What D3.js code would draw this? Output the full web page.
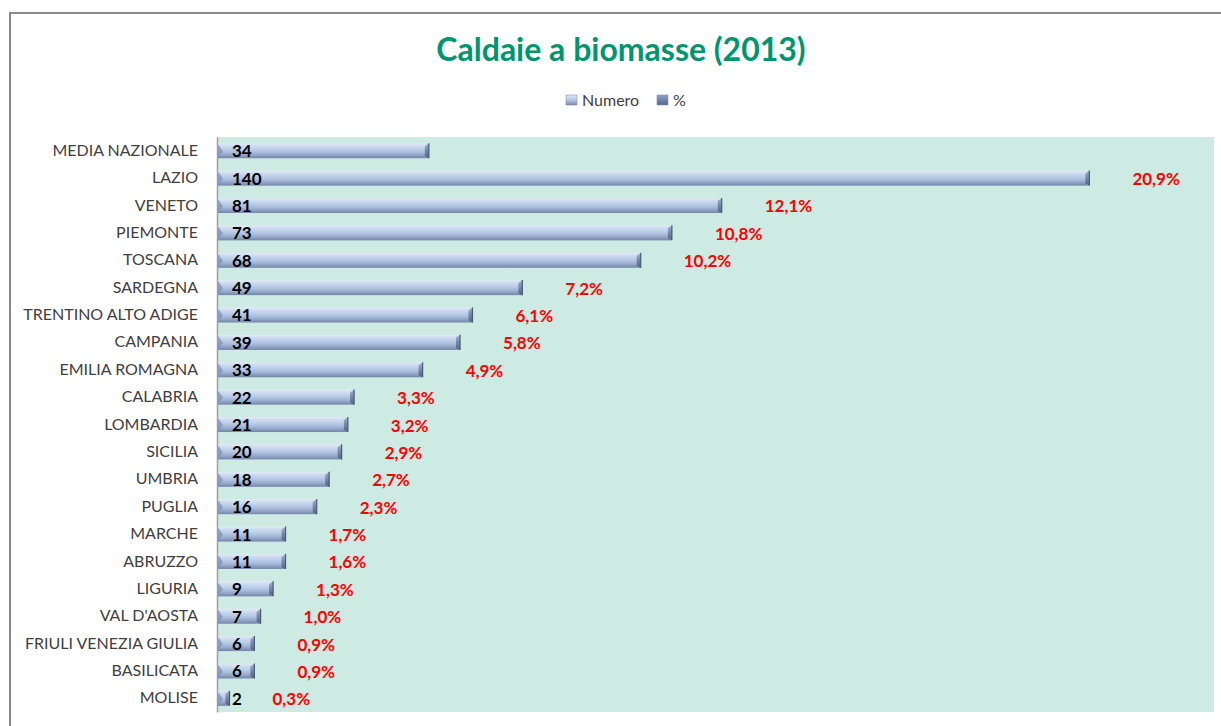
<!DOCTYPE html>
<html>
<head>
<meta charset="utf-8">
<script src="https://cdn.jsdelivr.net/npm/d3@7"></script>
<style>
  html, body { margin: 0; padding: 0; background: #ffffff; }
  svg { display: block; }
</style>
</head>
<body>
<div id="chart"></div>
<script>
const categories = ["MEDIA NAZIONALE","LAZIO","VENETO","PIEMONTE","TOSCANA","SARDEGNA","TRENTINO ALTO ADIGE","CAMPANIA","EMILIA ROMAGNA","CALABRIA","LOMBARDIA","SICILIA","UMBRIA","PUGLIA","MARCHE","ABRUZZO","LIGURIA","VAL D'AOSTA","FRIULI VENEZIA GIULIA","BASILICATA","MOLISE"];
const numero = [34,140,81,73,68,49,41,39,33,22,21,20,18,16,11,11,9,7,6,6,2];
const percent = [null,20.9,12.1,10.8,10.2,7.2,6.1,5.8,4.9,3.3,3.2,2.9,2.7,2.3,1.7,1.6,1.3,1.0,0.9,0.9,0.3];
const seriesNames = ["Numero","%"];
const xMax = 160;

const W = 1221, H = 726;
const plot = {left: 217, right: 1214, top: 137, bottom: 712};
const FONT = "Lato, 'Open Sans', sans-serif";

const svg = d3.select("#chart").append("svg").attr("width", W).attr("height", H);
const defs = svg.append("defs");

const g1 = defs.append("linearGradient").attr("id","barGrad").attr("x1",0).attr("y1",0).attr("x2",0).attr("y2",1);
[[0,"#e2eaf6"],[0.2,"#cddbef"],[0.45,"#b8cae6"],[0.62,"#a7bbdb"],[0.85,"#8a9dbf"],[1,"#7383a3"]]
  .forEach(([o,c]) => g1.append("stop").attr("offset",o).attr("stop-color",c));
const g2 = defs.append("linearGradient").attr("id","capGrad").attr("x1",0).attr("y1",0).attr("x2",0).attr("y2",1);
[[0,"#a3b4d0"],[0.5,"#7487a8"],[1,"#55647f"]]
  .forEach(([o,c]) => g2.append("stop").attr("offset",o).attr("stop-color",c));
const g3 = defs.append("linearGradient").attr("id","legGrad2").attr("x1",0).attr("y1",0).attr("x2",0).attr("y2",1);
[[0,"#8fa2c4"],[1,"#55668a"]]
  .forEach(([o,c]) => g3.append("stop").attr("offset",o).attr("stop-color",c));

// outer border
svg.append("rect").attr("x",10).attr("y",13).attr("width",1240).attr("height",760)
  .attr("fill","none").attr("stroke","#8a8a8a").attr("stroke-width",2);

// title
svg.append("text").attr("x",621).attr("y",61).attr("text-anchor","middle")
  .attr("font-family",FONT).attr("font-weight","bold")
  .attr("font-size",32).attr("fill","#00956e").text("Caldaie a biomasse (2013)");

// legend
const leg = svg.append("g").attr("font-family",FONT).attr("font-size",16).attr("fill","#404040");
const legItems = [{x:566, fill:"url(#barGrad)"},{x:657, fill:"url(#legGrad2)"}];
legItems.forEach((d,i) => {
  leg.append("rect").attr("x",d.x).attr("y",95).attr("width",11).attr("height",10).attr("fill",d.fill).attr("stroke","#7f90b0").attr("stroke-width",0.6);
  leg.append("text").attr("x",d.x+16).attr("y",106).text(seriesNames[i]);
});

// plot area
svg.append("rect").attr("x",plot.left).attr("y",plot.top).attr("width",plot.right-plot.left).attr("height",plot.bottom-plot.top)
  .attr("fill","#cdeae3");

const x = d3.scaleLinear().domain([0,xMax]).range([plot.left, plot.right]);
const y = d3.scaleBand().domain(categories).range([plot.top, plot.bottom]).paddingInner(0.45).paddingOuter(0.225);

// axis
const yAxis = d3.axisLeft(y).tickSize(0).tickPadding(19);
const ax = svg.append("g").attr("transform",`translate(${plot.left},0)`).call(yAxis);
ax.select(".domain").attr("stroke","#a0a0a0").attr("stroke-width",1.5);
ax.selectAll("text").attr("font-family",FONT).attr("font-size",16).attr("fill","#404040");

const data = categories.map((c,i) => ({c, n: numero[i], p: percent[i]}));
const bh = y.bandwidth();

const bars = svg.append("g").selectAll("g").data(data).join("g");
bars.append("rect").attr("x", x(0)+1).attr("y", d => y(d.c)).attr("width", d => x(d.n)-x(0)-1).attr("height", bh)
  .attr("fill","url(#barGrad)");
// left bevel
bars.append("path").attr("d", d => {
  const x0 = x(0)+1, y0 = y(d.c);
  return `M${x0},${y0+1} L${x0+Math.min(5,x(d.n)-x0)},${y0+bh*0.55} L${x0},${y0+bh-1} Z`;
}).attr("fill","#7f93b8").attr("opacity",0.8);
// right cap
bars.append("path").attr("d", d => {
  const x1 = x(d.n), y0 = y(d.c), cw = 4;
  return `M${x1-cw},${y0+3} L${x1},${y0} L${x1},${y0+bh} L${x1-cw},${y0+bh-2} Z`;
}).attr("fill","url(#capGrad)");
bars.append("line").attr("x1", d => x(d.n)).attr("x2", d => x(d.n)).attr("y1", d => y(d.c)).attr("y2", d => y(d.c)+bh)
  .attr("stroke","#4d5a72").attr("stroke-width",1.2);

// numero labels
svg.append("g").selectAll("text").data(data).join("text")
  .attr("x", x(0)+15).attr("y", d => y(d.c)+bh/2+6.5)
  .attr("font-family",FONT).attr("font-weight","bold").attr("font-size",17)
  .attr("fill","#000").text(d => d.n);

// percent labels
const fmt = v => v.toFixed(1).replace(".", ",") + "%";
svg.append("g").selectAll("text").data(data.filter(d => d.p != null)).join("text")
  .attr("x", d => x(d.n) + 43).attr("y", d => y(d.c)+bh/2+7)
  .attr("font-family",FONT).attr("font-weight","bold").attr("font-size",17)
  .attr("fill","#ff0000").text(d => fmt(d.p));
</script>
</body>
</html>
